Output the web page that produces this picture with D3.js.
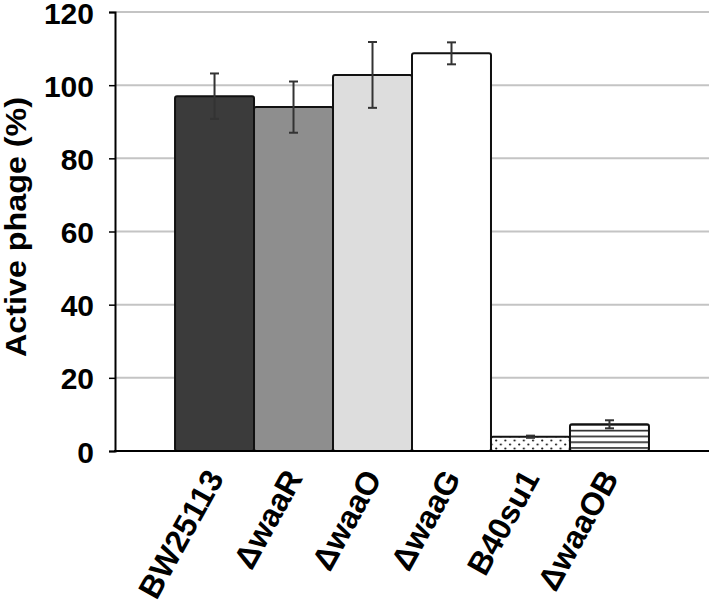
<!DOCTYPE html>
<html>
<head>
<meta charset="utf-8">
<script src="https://cdn.jsdelivr.net/npm/d3@7"></script>
<style>
    body { margin:0; background:#fff; }
    svg text { font-family: "Liberation Sans", Arial, sans-serif; font-weight:bold; fill:#000; }
</style>
</head>
<body>
<svg id="chart"></svg>
<script>
var strains = ["BW25113", "\u0394waaR", "\u0394waaO", "\u0394waaG", "B40su1", "\u0394waaOB"];
var means = [97, 94, 102.8, 108.7, 3.9, 7.3];
var errors = [6.2, 7, 9, 3, 0.3, 1.1];
var fills = ["#3b3b3b", "#8e8e8e", "#dddddd", "#ffffff", "url(#dots)", "url(#stripes)"];
var yTicks = [0, 20, 40, 60, 80, 100, 120];

var screen = {width:709, height:604};
var margins = {top:12, left:115, right:0, bottom:153};

var svg = d3.select("#chart")
    .attr("width", screen.width)
    .attr("height", screen.height);

//patterns for the last two bars
var defs = svg.append("defs");
var dots = defs.append("pattern")
    .attr("id", "dots")
    .attr("patternUnits", "userSpaceOnUse")
    .attr("width", 9.2)
    .attr("height", 8)
    .attr("x", 2)
    .attr("y", 3);
dots.append("rect").attr("width", 9.2).attr("height", 8).attr("fill", "#fff");
dots.append("circle").attr("cx", 2).attr("cy", 1.5).attr("r", 1.1).attr("fill", "#222");
dots.append("circle").attr("cx", 6.6).attr("cy", 5.5).attr("r", 1.1).attr("fill", "#222");

var stripes = defs.append("pattern")
    .attr("id", "stripes")
    .attr("patternUnits", "userSpaceOnUse")
    .attr("width", 10)
    .attr("height", 5.8)
    .attr("y", 0.6);
stripes.append("rect").attr("width", 10).attr("height", 5.8).attr("fill", "#fff");
stripes.append("rect").attr("y", 0).attr("width", 10).attr("height", 1.6).attr("fill", "#222");

//scales
var x = d3.scaleBand()
    .domain(strains)
    .range([margins.left, screen.width - margins.right])
    .paddingInner(0)
    .paddingOuter(0.76);

var y = d3.scaleLinear()
    .domain([0, 120])
    .range([screen.height - margins.bottom, margins.top]);

//gridlines
svg.append("g")
    .selectAll("line")
    .data(yTicks.slice(1))
    .enter()
    .append("line")
    .attr("x1", margins.left)
    .attr("x2", screen.width)
    .attr("y1", function(d) { return y(d); })
    .attr("y2", function(d) { return y(d); })
    .attr("stroke", "#c4c4c4")
    .attr("stroke-width", 2);

//y axis
var yAxis = d3.axisLeft(y)
    .tickValues(yTicks)
    .tickSize(6)
    .tickPadding(15);

var yg = svg.append("g")
    .attr("transform", "translate(" + margins.left + ",0)")
    .call(yAxis);
yg.select(".domain").attr("stroke", "#000").attr("stroke-width", 2);
yg.selectAll(".tick line").attr("stroke", "#000").attr("stroke-width", 1.5);
yg.selectAll(".tick text")
    .style("font-size", "30px")
    .attr("dy", "0.37em");

//bars
var bars = svg.append("g")
    .selectAll("rect")
    .data(strains)
    .enter()
    .append("rect")
    .attr("x", function(d) { return x(d); })
    .attr("y", function(d, i) { return y(means[i]); })
    .attr("width", x.bandwidth())
    .attr("height", function(d, i) { return y(0) - y(means[i]); })
    .attr("rx", 2)
    .attr("ry", 2)
    .attr("fill", function(d, i) { return fills[i]; })
    .attr("stroke", "#111")
    .attr("stroke-width", 2);

//error bars
var err = svg.append("g")
    .attr("stroke", "#333")
    .attr("stroke-width", 2);

strains.forEach(function(d, i)
{
    var cx = x(d) + x.bandwidth() / 2;
    var top = y(means[i] + errors[i]);
    var bot = y(means[i] - errors[i]);
    err.append("line").attr("x1", cx).attr("x2", cx).attr("y1", top).attr("y2", bot);
    err.append("line").attr("x1", cx - 4.5).attr("x2", cx + 4.5).attr("y1", top).attr("y2", top);
    err.append("line").attr("x1", cx - 4.5).attr("x2", cx + 4.5).attr("y1", bot).attr("y2", bot);
});

//x axis line
svg.append("line")
    .attr("x1", margins.left - 1)
    .attr("x2", screen.width)
    .attr("y1", y(0))
    .attr("y2", y(0))
    .attr("stroke", "#000")
    .attr("stroke-width", 2);

//x labels
svg.append("g")
    .selectAll("text")
    .data(strains)
    .enter()
    .append("text")
    .attr("transform", function(d)
    {
        return "translate(" + (x(d) + x.bandwidth() / 2 + 10) + "," + (y(0) + 27) + ") rotate(-61)";
    })
    .attr("text-anchor", "end")
    .style("font-size", "32px")
    .text(function(d) { return d; });

//y title
svg.append("text")
    .attr("transform", "translate(26," + 227 + ") rotate(-90)")
    .attr("text-anchor", "middle")
    .style("font-size", "29px")
    .attr("textLength", 260)
    .attr("lengthAdjust", "spacingAndGlyphs")
    .text("Active phage (%)");
</script>
</body>
</html>
